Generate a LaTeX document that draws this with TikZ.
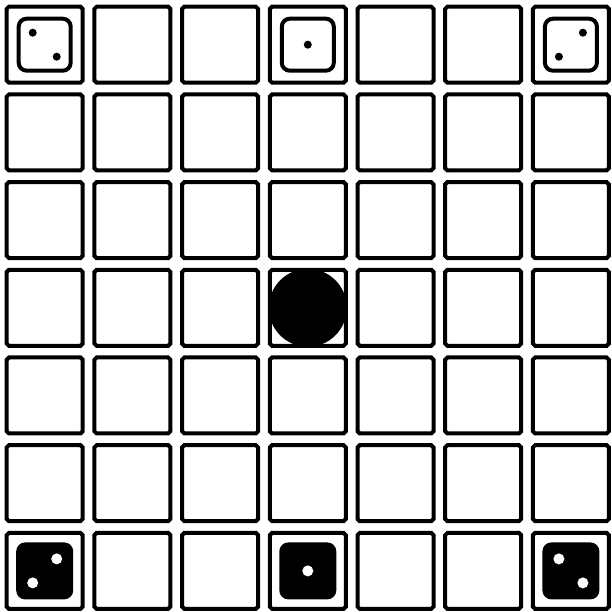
\documentclass[tikz,border=0pt]{standalone}
\begin{document}
\begin{tikzpicture}[x=1pt,y=1pt,
  cellb/.style={draw=black,line width=4pt,fill=white},
  wdie/.style={draw=black,line width=4pt,rounded corners=8pt,fill=white},
  bdie/.style={fill=black,rounded corners=9pt},
  bpip/.style={fill=black},
  wpip/.style={fill=white}]
\fill[white] (0,0) rectangle (611,612);
\useasboundingbox (0,0) rectangle (611,612);
\foreach \i in {0,...,6}{\foreach \j in {0,...,6}{
  \pgfmathsetmacro\cx{44.7+87.7*\i}
  \pgfmathsetmacro\cy{567.3-87.7*\j}
  \draw[cellb] (\cx,\cy) ++(-35.74,38) -- ++(71.48,0)
     arc[start angle=215.8,end angle=234.2,radius=10] -- ++(0,-71.48)
     arc[start angle=125.8,end angle=144.2,radius=10] -- ++(-71.48,0)
     arc[start angle=35.8,end angle=54.2,radius=10] -- ++(0,71.48)
     arc[start angle=-54.2,end angle=-35.8,radius=10] -- cycle;
}}
% top row: white dice
\coordinate (d1) at (44.7,567.3);
\coordinate (d2) at (307.8,567.3);
\coordinate (d3) at (570.9,567.3);
\foreach \d in {d1,d2,d3}{\draw[wdie] (\d) ++(-26,-26) rectangle ++(52,52);}
\fill[bpip] (d1) ++(-12,12) circle (4);
\fill[bpip] (d1) ++(12,-12) circle (4);
\fill[bpip] (d2) circle (4);
\fill[bpip] (d3) ++(12,12) circle (4);
\fill[bpip] (d3) ++(-12,-12) circle (4);
% bottom row: black dice
\coordinate (e1) at (44.7,41.1);
\coordinate (e2) at (307.8,41.1);
\coordinate (e3) at (570.9,41.1);
\foreach \d in {e1,e2,e3}{\fill[bdie] (\d) ++(-28.5,-28.5) rectangle ++(57,57);}
\fill[wpip] (e1) ++(12,12) circle (5.5);
\fill[wpip] (e1) ++(-12,-12) circle (5.5);
\fill[wpip] (e2) circle (5.5);
\fill[wpip] (e3) ++(-12,12) circle (5.5);
\fill[wpip] (e3) ++(12,-12) circle (5.5);
% centre piece
\coordinate (c) at (307.8,304.2);
\fill[black] (c) circle (39);
\end{tikzpicture}
\end{document}
